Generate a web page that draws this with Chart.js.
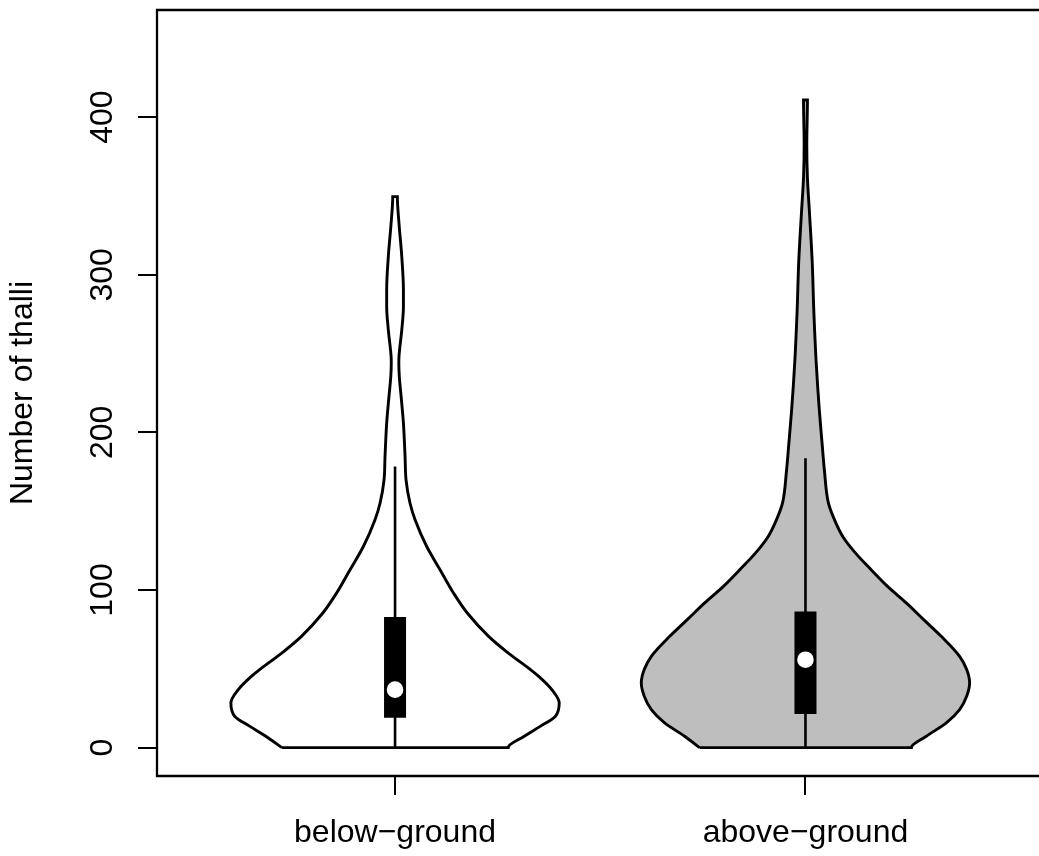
<!DOCTYPE html>
<html lang="en">
<head>
<meta charset="UTF-8">
<title>Number of thalli</title>
<script src="https://cdn.jsdelivr.net/npm/chart.js"></script>
<style>
  html, body { margin: 0; padding: 0; background: #fff; overflow: hidden; }
  .chart-box { width: 1039px; height: 856px; }
</style>
</head>
<body>
<div class="chart-box"><canvas id="violinChart"></canvas></div>
<script>
// categories and axis ticks
const groups = ["below\u2212ground", "above\u2212ground"];
const yTicks = [0, 100, 200, 300, 400];

// density outlines (value, relative density)
const belowY    = [0, 7.2, 13.5, 19.8, 28.3, 36.8, 45.2, 49.5, 60, 70.6, 85.4, 98.1, 112.9, 127.6, 144.6, 155.2, 169.9, 184.7, 205.9, 222.8, 235.4, 243.9, 248.1, 265.1, 279.8, 290.4, 311.5, 332.7, 349.6];
const belowDens = [0.689, 0.787, 0.884, 0.976, 1.0, 0.955, 0.875, 0.825, 0.69, 0.57, 0.44, 0.356, 0.274, 0.193, 0.122, 0.091, 0.067, 0.061, 0.051, 0.037, 0.026, 0.023, 0.024, 0.041, 0.051, 0.051, 0.041, 0.024, 0.014];
const aboveY    = [0, 7.2, 15.7, 24.1, 32.6, 41.1, 49.5, 57.9, 70.6, 81.2, 91.8, 102.3, 112.9, 123.4, 134, 144.5, 155.1, 175.2, 192.1, 213.3, 245, 276.7, 308.4, 340.1, 361.3, 382.4, 410.9];
const aboveDens = [0.645, 0.736, 0.858, 0.939, 0.982, 1.0, 0.982, 0.939, 0.827, 0.72, 0.614, 0.5, 0.4, 0.305, 0.227, 0.177, 0.14, 0.116, 0.102, 0.085, 0.065, 0.051, 0.041, 0.024, 0.012, 0.008, 0.012];

// box plot summaries
const whiskerLow  = [0, 0];
const whiskerHigh = [178.3, 183.6];
const q1 = [18.9, 21.4];
const q3 = [82.9, 86.4];
const medians = [36.8, 55.8];

const fillColors = ["#FFFFFF", "#BEBEBE"];
const halfWidth = 0.4;
const font = '"Liberation Sans", Arial, sans-serif';
const fontSize = 32;

function outline(pos, ys, dens) {
    const left = ys.map((y, i) => ({ x: pos - halfWidth * dens[i], y: y }));
    const right = ys.map((y, i) => ({ x: pos + halfWidth * dens[i], y: y })).reverse();
    return left.concat(right, [left[0]]);
}

const shapes = [[belowY, belowDens], [aboveY, aboveDens]];
const datasets = [];
groups.forEach((g, i) => {
    const pos = i + 1;
    datasets.push({
        label: g,
        data: outline(pos, shapes[i][0], shapes[i][1]),
        indexAxis: "y",
        cubicInterpolationMode: "monotone",
        borderColor: "#000",
        borderWidth: 2.9,
        backgroundColor: fillColors[i],
        fill: "shape",
        pointRadius: 0,
        order: 4
    });
    datasets.push({
        data: [{ x: pos, y: whiskerLow[i] }, { x: pos, y: whiskerHigh[i] }],
        borderColor: "#000",
        borderWidth: 2.6,
        pointRadius: 0,
        order: 3
    });
    datasets.push({
        data: [{ x: pos, y: q1[i] }, { x: pos, y: q3[i] }],
        borderColor: "#000",
        borderWidth: 22,
        borderCapStyle: "butt",
        pointRadius: 0,
        order: 2
    });
    datasets.push({
        data: [{ x: pos, y: medians[i] }],
        showLine: false,
        pointRadius: 8.3,
        pointBorderWidth: 0,
        pointBackgroundColor: "#FFFFFF",
        order: 1
    });
});

// R-style box (no right side, it falls off the page) and vertical tick labels
const rFrame = {
    id: "rFrame",
    afterDraw(chart) {
        const { ctx, chartArea: a, scales } = chart;
        ctx.save();
        ctx.strokeStyle = "#000";
        ctx.lineWidth = 2.3;
        ctx.beginPath();
        ctx.moveTo(a.right + 5, a.top);
        ctx.lineTo(a.left, a.top);
        ctx.lineTo(a.left, a.bottom);
        ctx.lineTo(a.right + 5, a.bottom);
        ctx.stroke();

        ctx.fillStyle = "#000";
        ctx.font = fontSize + "px " + font;
        ctx.textAlign = "center";
        ctx.textBaseline = "alphabetic";
        yTicks.forEach(v => {
            ctx.save();
            ctx.translate(a.left - 45, scales.y.getPixelForValue(v));
            ctx.rotate(-Math.PI / 2);
            ctx.fillText(String(v), 0, 0);
            ctx.restore();
        });
        ctx.restore();
    }
};

const tickGrid = {
    drawOnChartArea: false,
    drawTicks: true,
    tickLength: 19,
    color: "#000",
    lineWidth: 2
};

new Chart(document.getElementById("violinChart"), {
    type: "line",
    data: { datasets: datasets },
    options: {
        responsive: true,
        maintainAspectRatio: false,
        animation: false,
        layout: { autoPadding: false, padding: { top: 10, right: 0, bottom: 0, left: 0 } },
        plugins: { legend: { display: false }, tooltip: { enabled: false } },
        scales: {
            x: {
                type: "linear",
                min: 0.42,
                max: 2.569,
                afterBuildTicks: s => { s.ticks = [1, 2].map(v => ({ value: v })); },
                afterFit: s => { s.height = 80; },
                grid: tickGrid,
                border: { display: false },
                ticks: {
                    autoSkip: false,
                    maxRotation: 0,
                    padding: 19,
                    color: "#000",
                    font: { family: font, size: fontSize },
                    callback: v => groups[Math.round(v) - 1]
                }
            },
            y: {
                type: "linear",
                min: -18,
                max: 468,
                afterBuildTicks: s => { s.ticks = yTicks.map(v => ({ value: v })); },
                afterFit: s => { s.width = 157; },
                grid: tickGrid,
                border: { display: false },
                ticks: { display: false },
                title: {
                    display: true,
                    text: "Number of thalli",
                    color: "#000",
                    font: { family: font, size: fontSize },
                    padding: { top: 4, bottom: 0 }
                }
            }
        }
    },
    plugins: [rFrame]
});
</script>
</body>
</html>
